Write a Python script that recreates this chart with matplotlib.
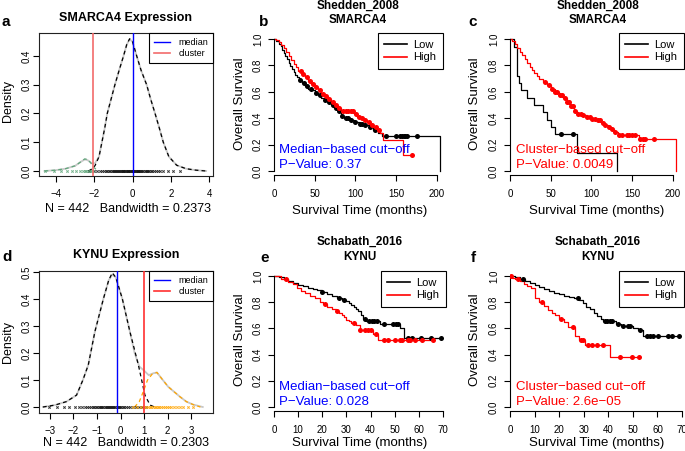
import numpy as np
import matplotlib
matplotlib.use('Agg')
import matplotlib.pyplot as plt
from matplotlib.lines import Line2D

plt.rcParams['font.family'] = ['Liberation Sans', 'DejaVu Sans']

# ---------------- data ----------------
# Panel a: SMARCA4 density
a_main_x = [-2.3, -2.05, -1.95, -1.75, -1.6, -1.45, -1.32, -1.1, -0.92, -0.7, -0.47, -0.3, -0.15, 0.0, 0.22, 0.45, 0.74, 0.95, 1.18, 1.4, 1.61, 1.9, 2.31, 2.8, 3.3, 3.85]
a_main_y = [0.0, 0.01, 0.02, 0.05, 0.1, 0.15, 0.2, 0.255, 0.3, 0.35, 0.4, 0.44, 0.46, 0.45, 0.4, 0.35, 0.3, 0.25, 0.2, 0.15, 0.1, 0.05, 0.02, 0.008, 0.003, 0.0]
a_clus_x = [-4.6, -4.0, -3.5, -3.0, -2.7, -2.5, -2.35, -2.2, -2.05, -1.9]
a_clus_y = [0.0, 0.003, 0.008, 0.018, 0.032, 0.042, 0.04, 0.03, 0.015, 0.005]
a_tot_x = [-4.6, -4.0, -3.5, -3.0, -2.7, -2.5, -2.35, -2.2, -2.05, -1.95, -1.75, -1.6, -1.45, -1.32, -1.1, -0.92, -0.7, -0.47, -0.3, -0.15, 0.0, 0.22, 0.45, 0.74, 0.95, 1.18, 1.4, 1.61, 1.9, 2.31, 2.8, 3.3, 3.85]
a_tot_y = [0.0, 0.003, 0.008, 0.018, 0.032, 0.04, 0.038, 0.03, 0.025, 0.028, 0.05, 0.1, 0.15, 0.2, 0.255, 0.3, 0.35, 0.4, 0.44, 0.458, 0.45, 0.4, 0.35, 0.3, 0.25, 0.2, 0.15, 0.1, 0.05, 0.02, 0.008, 0.003, 0.0]
a_rug_main = [-2.25, -2.02, -1.88, -1.71, -1.62, -1.48, -1.39, -1.31, -1.22, -1.17, -1.09, -1.03, -0.97, -0.92, -0.86, -0.81, -0.77, -0.71, -0.66, -0.62, -0.57, -0.52, -0.48, -0.43, -0.39, -0.34, -0.29, -0.26, -0.21, -0.17, -0.12, -0.08, -0.04, 0.01, 0.05, 0.09, 0.13, 0.18, 0.22, 0.27, 0.31, 0.36, 0.41, 0.46, 0.52, 0.57, 0.63, 0.69, 0.74, 0.81, 0.88, 0.95, 1.04, 1.12, 1.21, 1.33, 1.46, 1.62, 1.85, 2.12, 2.48]
a_rug_clus = [-4.55, -4.1, -3.72, -3.41, -3.15, -2.93, -2.74, -2.61, -2.5, -2.42, -2.33, -2.24, -2.15, -2.08]
a_median = 0.01
a_cluster = -2.07

# Panel d: KYNU density
d_main_x = [-3.3, -2.79, -2.3, -1.87, -1.6, -1.37, -1.09, -0.73, -0.5, -0.35, -0.2, 0.08, 0.4, 0.76, 1.04, 1.26, 1.45]
d_main_y = [0.0, 0.007, 0.02, 0.044, 0.1, 0.156, 0.279, 0.40, 0.47, 0.497, 0.48, 0.40, 0.279, 0.156, 0.044, 0.007, 0.0]
d_clus_x = [0.6, 0.8, 0.97, 1.15, 1.35, 1.55, 1.8, 2.03, 2.3, 2.53, 2.8, 3.09, 3.4]
d_clus_y = [0.0, 0.02, 0.057, 0.1, 0.122, 0.128, 0.1, 0.075, 0.055, 0.038, 0.02, 0.009, 0.0]
d_tot_x = [-3.3, -2.8, -2.3, -1.87, -1.6, -1.37, -1.09, -0.73, -0.5, -0.35, -0.2, 0.08, 0.4, 0.6, 0.8, 1.0, 1.2, 1.4, 1.55, 1.8, 2.03, 2.3, 2.53, 2.8, 3.09, 3.5]
d_tot_y = [0.0, 0.007, 0.02, 0.044, 0.1, 0.156, 0.279, 0.40, 0.47, 0.49, 0.48, 0.40, 0.279, 0.2, 0.15, 0.135, 0.118, 0.125, 0.128, 0.1, 0.075, 0.055, 0.038, 0.02, 0.009, 0.0]
d_rug_main = [-3.05, -2.7, -2.41, -2.18, -1.95, -1.78, -1.62, -1.5, -1.41, -1.33, -1.25, -1.18, -1.11, -1.05, -0.99, -0.93, -0.88, -0.83, -0.78, -0.73, -0.68, -0.63, -0.59, -0.54, -0.5, -0.45, -0.41, -0.36, -0.31, -0.27, -0.22, -0.17, -0.12, -0.07, -0.02, 0.04, 0.1, 0.17, 0.24, 0.32, 0.41, 0.52, 0.64, 0.78, 0.93, 1.1]
d_rug_clus = [0.55, 0.72, 0.86, 0.98, 1.07, 1.16, 1.24, 1.31, 1.38, 1.45, 1.52, 1.58, 1.65, 1.72, 1.8, 1.88, 1.97, 2.06, 2.16, 2.27, 2.39, 2.52, 2.68, 2.86, 3.08]
d_median = -0.14
d_cluster = 0.99

# Panel b: Shedden_2008 SMARCA4, median cut-off
b_low_t = [0, 3, 6, 8, 10, 12, 14, 16, 18, 20, 22, 24, 26, 28, 31, 34, 38, 42, 46, 50, 54, 58, 62, 66, 70, 74, 78, 82, 86, 92, 98, 104, 110, 116, 122, 128, 133, 204]
b_low_s = [1, 0.985, 0.965, 0.945, 0.92, 0.895, 0.87, 0.845, 0.82, 0.795, 0.77, 0.75, 0.73, 0.71, 0.69, 0.67, 0.645, 0.625, 0.61, 0.59, 0.575, 0.555, 0.54, 0.52, 0.5, 0.48, 0.455, 0.42, 0.40, 0.385, 0.37, 0.355, 0.345, 0.33, 0.31, 0.29, 0.265, 0.0]
b_low_c = [32, 37, 40, 45, 52, 57, 63, 68, 72, 76, 80, 84, 88, 91, 95, 100, 105, 108, 112, 118, 124, 138, 150, 155, 157, 159, 161, 163, 176]
b_high_t = [0, 3, 6, 9, 12, 15, 18, 21, 24, 27, 30, 34, 38, 42, 46, 50, 54, 58, 62, 66, 70, 74, 78, 82, 98, 102, 106, 110, 114, 118, 122, 126, 130, 134, 158]
b_high_s = [1, 0.99, 0.975, 0.955, 0.93, 0.90, 0.87, 0.84, 0.81, 0.785, 0.76, 0.735, 0.71, 0.685, 0.66, 0.635, 0.61, 0.585, 0.565, 0.545, 0.52, 0.50, 0.48, 0.455, 0.43, 0.41, 0.40, 0.39, 0.37, 0.35, 0.33, 0.31, 0.285, 0.235, 0.12]
b_high_c = [33, 36, 40, 44, 48, 52, 56, 60, 64, 68, 72, 76, 80, 85, 88, 91, 94, 97, 101, 104, 108, 112, 116, 120, 125, 129, 169]

# Panel c: Shedden_2008 SMARCA4, cluster cut-off
c_low_t = [0, 5, 9, 11, 13, 21, 29, 40, 46, 50, 55, 82, 131]
c_low_s = [1, 0.94, 0.72, 0.67, 0.61, 0.555, 0.50, 0.445, 0.39, 0.335, 0.28, 0.14, 0.0]
c_low_c = [62, 77]
c_high_t = [0, 3, 6, 9, 12, 15, 18, 21, 24, 27, 30, 33, 36, 40, 45, 50, 55, 60, 65, 70, 74, 78, 82, 88, 94, 100, 106, 112, 116, 120, 124, 128, 132, 158, 204]
c_high_s = [1, 0.985, 0.96, 0.935, 0.905, 0.88, 0.85, 0.82, 0.79, 0.765, 0.74, 0.72, 0.70, 0.675, 0.65, 0.625, 0.60, 0.575, 0.55, 0.52, 0.49, 0.455, 0.435, 0.425, 0.41, 0.395, 0.385, 0.365, 0.35, 0.335, 0.315, 0.295, 0.275, 0.24, 0.0]
c_high_c = [43, 48, 52, 55, 58, 61, 64, 67, 70, 72, 75, 77, 80, 84, 87, 90, 95, 98, 101, 104, 108, 111, 114, 117, 121, 125, 129, 134, 138, 143, 146, 150, 153, 160, 163, 166, 177]

# Panel e: Schabath_2016 KYNU, median cut-off
e_low_t = [0, 2, 4, 6, 8, 10, 12, 14, 16, 18, 20, 22, 24, 26, 28, 30, 31, 32, 33, 34, 35, 36, 37, 38, 44, 52, 54]
e_low_s = [1, 0.99, 0.975, 0.96, 0.945, 0.93, 0.92, 0.91, 0.9, 0.89, 0.875, 0.865, 0.85, 0.835, 0.82, 0.81, 0.795, 0.78, 0.765, 0.75, 0.73, 0.70, 0.675, 0.655, 0.635, 0.6, 0.53]
e_low_c = [20, 27, 29, 37.5, 39.5, 40.5, 41.5, 42.5, 45.5, 49.5, 50.5, 51.2, 55.5, 57, 61, 65, 69]
e_high_t = [0, 3, 6, 8, 9.5, 11, 13, 15, 17, 19, 20.5, 22, 24, 25.5, 27, 28, 29, 30, 31, 32, 34, 35.5, 41, 43]
e_high_s = [1, 0.98, 0.955, 0.935, 0.905, 0.885, 0.87, 0.85, 0.83, 0.805, 0.785, 0.765, 0.75, 0.735, 0.72, 0.70, 0.685, 0.665, 0.655, 0.64, 0.625, 0.585, 0.555, 0.51]
e_high_c = [4.8, 21, 26, 33, 35.8, 37.7, 39.1, 40.2, 42.1, 45.5, 47.3, 50.3, 52, 53, 55.5, 56.5, 58.3, 61.3, 66]

# Panel f: Schabath_2016 KYNU, cluster cut-off
f_low_t = [0, 2, 4, 6, 8, 10, 12, 14, 16, 18, 20, 22, 24, 26, 28, 29.5, 31, 32.5, 34, 35.5, 37, 38, 43, 45, 50, 52, 54]
f_low_s = [1, 0.99, 0.975, 0.96, 0.945, 0.93, 0.915, 0.9, 0.885, 0.87, 0.86, 0.85, 0.84, 0.83, 0.815, 0.79, 0.765, 0.745, 0.72, 0.695, 0.67, 0.655, 0.635, 0.615, 0.6, 0.585, 0.545]
f_low_c = [5.4, 27.5, 38.7, 39.5, 40.5, 41.5, 44, 46, 48, 49, 52.8, 55.6, 57, 58.3, 60.4, 64.4, 65.8, 68.8]
f_high_t = [0, 1, 2, 4, 5.5, 7, 8.5, 10, 12, 14, 15.5, 17, 18.5, 20, 22, 23.5, 26.5, 28, 30.5, 40.7]
f_high_s = [1, 0.985, 0.975, 0.96, 0.94, 0.92, 0.91, 0.83, 0.80, 0.77, 0.74, 0.72, 0.70, 0.67, 0.645, 0.61, 0.545, 0.51, 0.473, 0.38]
f_high_c = [0.5, 3.1, 12.9, 20.8, 25.8, 28.7, 29.8, 31.9, 33.2, 35.3, 38, 44.8, 49.5, 52.5]

# ---------------- figure ----------------
W, H = 685, 451
fig = plt.figure(figsize=(W / 100, H / 100), dpi=100)


def add_ax(l, t, r, b):
    return fig.add_axes([l / W, 1 - b / H, (r - l) / W, (b - t) / H])


def ftext(x, y, s, **kw):
    kw.setdefault('ha', 'center')
    kw.setdefault('va', 'center')
    fig.text(x / W, 1 - y / H, s, **kw)


def density_panel(ax, main, clus, tot, rug_main, rug_clus, clus_color, med, clu, clu_color,
                  xlim, ylim, xticks, yticks):
    ax.plot(tot[0], tot[1], color='#c8c8c8', lw=1.3, zorder=1)
    ax.plot(main[0], main[1], color='black', lw=0.9, ls=(0, (3, 2.5)), zorder=2)
    ax.plot(clus[0], clus[1], color=clus_color, lw=0.9, ls=(0, (3, 2.5)), zorder=2)
    ax.plot(rug_main, np.zeros(len(rug_main)), ls='none', marker='x', ms=1.7, mew=0.7,
            color='#111111', alpha=0.85, zorder=3)
    ax.plot(rug_clus, np.zeros(len(rug_clus)), ls='none', marker='x', ms=1.7, mew=0.7,
            color=clus_color, alpha=0.85, zorder=3)
    ax.axvline(med, color='blue', lw=1.0, zorder=4)
    ax.axvline(clu, color=clu_color, lw=1.2, zorder=4)
    ax.set_xlim(xlim)
    ax.set_ylim(ylim)
    ax.set_xticks(xticks)
    ax.set_yticks(yticks)
    ax.set_xticklabels([('%d' % v).replace('-', '\u2212') for v in xticks])
    ax.set_yticklabels(['%.1f' % v for v in yticks], rotation=90, va='center')
    ax.tick_params(axis='x', length=4, width=0.8, labelsize=7, pad=5.5)
    ax.tick_params(axis='y', length=4, width=0.8, labelsize=7, pad=1.5)
    for sp in ax.spines.values():
        sp.set_linewidth(0.8)
        sp.set_color('#222222')
    handles = [Line2D([], [], color='blue', lw=1.0), Line2D([], [], color=clu_color, lw=1.2)]
    leg = ax.legend(handles, ['median', 'cluster'], loc='upper right', bbox_to_anchor=(1, 1),
                    borderaxespad=0, fancybox=False, framealpha=1, edgecolor='black',
                    fontsize=6.5, handlelength=1.75, handletextpad=0.9, borderpad=0.55,
                    labelspacing=0.2)
    leg.get_frame().set_linewidth(0.8)


def s_at(times, surv, t):
    idx = np.searchsorted(np.asarray(times), np.asarray(t), side='right') - 1
    return np.asarray(surv)[idx]


def km_curve(ax, times, surv, cens, color):
    x = list(times)
    y = list(surv)
    if len(cens) and max(cens) > x[-1]:
        x.append(max(cens))
        y.append(y[-1])
    ax.step(x, y, where='post', color=color, lw=0.9, zorder=2)
    ax.scatter(cens, s_at(times, surv, cens), s=13, color=color, lw=0, zorder=3)


def km_panel(ax, low, high, xlim, xticks, ylim, txt1, txt2, txt_color, tx, ty1, ty2):
    km_curve(ax, *low, 'black')
    km_curve(ax, *high, 'red')
    ax.set_xlim(xlim)
    ax.set_ylim(ylim)
    ax.set_xticks(xticks)
    yt = [0.0, 0.2, 0.4, 0.6, 0.8, 1.0]
    ax.set_yticks(yt)
    ax.set_yticklabels(['%.1f' % v for v in yt], rotation=90, va='center')
    ax.spines['top'].set_visible(False)
    ax.spines['right'].set_visible(False)
    ax.spines['left'].set_bounds(0, 1)
    ax.spines['bottom'].set_bounds(xticks[0], xticks[-1])
    for k in ('left', 'bottom'):
        ax.spines[k].set_linewidth(0.8)
    ax.tick_params(axis='x', length=4, width=0.8, labelsize=7, pad=6)
    ax.tick_params(axis='y', length=4, width=0.8, labelsize=7, pad=4)
    ax.patch.set_alpha(0)
    ax.text(tx, ty1, txt1, color=txt_color, fontsize=9.5, ha='left', va='center')
    ax.text(tx, ty2, txt2, color=txt_color, fontsize=9.5, ha='left', va='center')
    handles = [Line2D([], [], color='black', lw=1.2), Line2D([], [], color='red', lw=1.2)]
    leg = ax.legend(handles, ['Low', 'High'], loc='upper right', bbox_to_anchor=(1, 1),
                    borderaxespad=0, fancybox=False, framealpha=1, edgecolor='black',
                    fontsize=8, handlelength=2.0, handletextpad=0.6, borderpad=0.6,
                    labelspacing=0.25)
    leg.get_frame().set_linewidth(0.8)


# ---- panel a ----
axa = add_ax(39, 33, 213, 176)
density_panel(axa, (a_main_x, a_main_y), (a_clus_x, a_clus_y), (a_tot_x, a_tot_y),
              a_rug_main, a_rug_clus, '#5fa67a', a_median, a_cluster, '#f26b6b',
              (-4.889, 4.209), (-0.0174, 0.48), [-4, -2, 0, 2, 4], [0.0, 0.1, 0.2, 0.3, 0.4])
ftext(2, 21.5, 'a', fontsize=11, fontweight='bold', ha='left')
ftext(126, 18, 'SMARCA4 Expression', fontsize=9, fontweight='bold')
ftext(8, 101, 'Density', fontsize=9, rotation=90)
ftext(128, 209, 'N = 442   Bandwidth = 0.2373', fontsize=9)

# ---- panel d ----
axd = add_ax(39, 271, 213, 413)
density_panel(axd, (d_main_x, d_main_y), (d_clus_x, d_clus_y), (d_tot_x, d_tot_y),
              d_rug_main, d_rug_clus, '#ffa500', d_median, d_cluster, '#ff3030',
              (-3.468, 3.936), (-0.0222, 0.5037), [-3, -2, -1, 0, 1, 2, 3],
              [0.0, 0.1, 0.2, 0.3, 0.4, 0.5])
ftext(2, 257, 'd', fontsize=11, fontweight='bold', ha='left')
ftext(126, 255, 'KYNU Expression', fontsize=9, fontweight='bold')
ftext(8, 342, 'Density', fontsize=9, rotation=90)
ftext(126, 443, 'N = 442   Bandwidth = 0.2303', fontsize=9)

# ---- panel b ----
axb = add_ax(274, 33, 443, 175)
km_panel(axb, (b_low_t, b_low_s, b_low_c), (b_high_t, b_high_s, b_high_c),
         (0, 207.4), [0, 50, 100, 150, 200], (-0.0303, 1.0455),
         'Median\u2212based cut\u2212off', 'P\u2212Value: 0.37', 'blue', 6, 0.16, 0.045)
ftext(264, 21.5, 'b', fontsize=11, fontweight='bold')
ftext(358, 5.5, 'Shedden_2008', fontsize=8.5, fontweight='bold')
ftext(358, 20, 'SMARCA4', fontsize=8.5, fontweight='bold')
ftext(240, 104, 'Overall Survival', fontsize=9.5, rotation=90)
ftext(360, 210.5, 'Survival Time (months)', fontsize=9.5)

# ---- panel c ----
axc = add_ax(510, 33, 684, 175)
km_panel(axc, (c_low_t, c_low_s, c_low_c), (c_high_t, c_high_s, c_high_c),
         (0, 213.5), [0, 50, 100, 150, 200], (-0.0303, 1.0455),
         'Cluster\u2212based cut\u2212off', 'P\u2212Value: 0.0049', 'red', 7, 0.16, 0.045)
ftext(473, 21.5, 'c', fontsize=11, fontweight='bold')
ftext(598, 5.5, 'Shedden_2008', fontsize=8.5, fontweight='bold')
ftext(598, 20, 'SMARCA4', fontsize=8.5, fontweight='bold')
ftext(475, 104, 'Overall Survival', fontsize=9.5, rotation=90)
ftext(597, 210.5, 'Survival Time (months)', fontsize=9.5)

# ---- panel e ----
axe = add_ax(274, 271, 446, 411)
km_panel(axe, (e_low_t, e_low_s, e_low_c), (e_high_t, e_high_s, e_high_c),
         (0, 71.25), [0, 10, 20, 30, 40, 50, 60, 70], (-0.0305, 1.038),
         'Median\u2212based cut\u2212off', 'P\u2212Value: 0.028', 'blue', 2, 0.155, 0.04)
ftext(265, 258, 'e', fontsize=11, fontweight='bold')
ftext(360, 241.5, 'Schabath_2016', fontsize=8.5, fontweight='bold')
ftext(360, 256.5, 'KYNU', fontsize=8.5, fontweight='bold')
ftext(240, 340, 'Overall Survival', fontsize=9.5, rotation=90)
ftext(360, 443, 'Survival Time (months)', fontsize=9.5)

# ---- panel f ----
axf = add_ax(510, 271, 684, 411)
km_panel(axf, (f_low_t, f_low_s, f_low_c), (f_high_t, f_high_s, f_high_c),
         (0, 70.8), [0, 10, 20, 30, 40, 50, 60, 70], (-0.0305, 1.038),
         'Cluster\u2212based cut\u2212off', 'P\u2212Value: 2.6e\u221205', 'red', 2.3, 0.155, 0.04)
ftext(473, 258, 'f', fontsize=11, fontweight='bold')
ftext(598, 241.5, 'Schabath_2016', fontsize=8.5, fontweight='bold')
ftext(598, 256.5, 'KYNU', fontsize=8.5, fontweight='bold')
ftext(475, 340, 'Overall Survival', fontsize=9.5, rotation=90)
ftext(597, 443, 'Survival Time (months)', fontsize=9.5)

fig.savefig('out.png', dpi=100)
